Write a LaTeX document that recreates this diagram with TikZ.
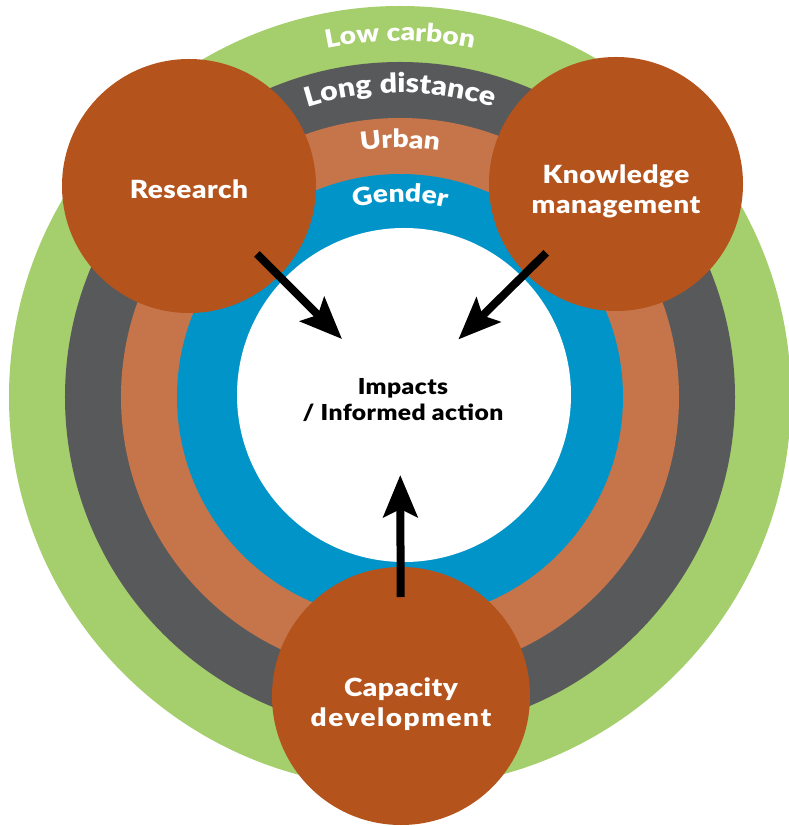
\documentclass[tikz,border=0pt]{standalone}
\usepackage{fontspec}
\IfFontExistsTF{Lato Black}
  {\setmainfont{Lato}[BoldFont={Lato Black}, FakeStretch=1.12, LetterSpace=2]}
  {\setmainfont{Lato}[FakeStretch=1.15, LetterSpace=2]}
\usetikzlibrary{arrows.meta,calc,decorations.text}

\definecolor{ringgreen}{HTML}{A5CE6C}
\definecolor{ringgray}{HTML}{58595B}
\definecolor{ringorange}{HTML}{C6754A}
\definecolor{ringblue}{HTML}{0094C9}
\definecolor{hubbrown}{HTML}{B4531C}

\begin{document}
\begin{tikzpicture}[x=1pt,y=1pt,
  ring/.style={circle, minimum size=#1, inner sep=0pt, draw=none},
  hub/.style={circle, minimum size=254pt, inner sep=0pt, fill=hubbrown},
  hubtext/.style={text=white, align=center, font=\bfseries\fontsize{25}{30}\selectfont},
  flow/.style={line width=8pt, -{Stealth[length=42pt,width=34pt,inset=8pt]}},
  ringlabel/.style 2 args={decorate, decoration={text along path, text align=center,
      text={|\bfseries\fontsize{#1}{30}\selectfont\color{white}|#2}}}
]
\useasboundingbox (-400,-429) rectangle (388,397);
\coordinate (O) at (0,0);

% concentric rings, outermost first
\node[ring=782pt, fill=ringgreen]  (lowcarbon) at (O) {};
\node[ring=670pt, fill=ringgray]   (longdist)  at (O) {};
\node[ring=558pt, fill=ringorange] (urban)     at (O) {};
\node[ring=446pt, fill=ringblue]   (gender)    at (O) {};
\node[ring=334pt, fill=white]      (impact)    at (4,2) {};

% ring labels along their arcs
\path[ringlabel={25}{Low carbon}]    (180:356) arc[start angle=180, end angle=0, radius=356];
\path[ringlabel={27}{Long distance}] (180:304) arc[start angle=180, end angle=0, radius=304];
\path[ringlabel={25}{Urban}]         (180:249) arc[start angle=180, end angle=0, radius=249];
\path[ringlabel={25}{Gender}]        (180:195) arc[start angle=180, end angle=0, radius=195];

% the three activity hubs
\node[hub] (research)  at (-211,211) {};
\node[hub] (knowledge) at (216,213) {};
\node[hub, minimum size=258pt] (capacity) at (1,-299) {};

\node[hubtext] (researchtext)  at ([yshift=-3pt]research.center)  {Research};
\node[hubtext] (knowledgetext) at ([yshift=-7pt]knowledge.center) {Knowledge\\management};
\node[hubtext] (capacitytext)  at ([yshift=-8pt]capacity.center)  {Capacity\\{\addfontfeature{LetterSpace=6}development}};

\node[font=\bfseries\fontsize{22}{26}\selectfont, align=center] (impacttext) at (3,-3)
  {Impacts\\/ Informed action};

% flows into the centre
\draw[flow] ($(research.center)!96pt!(O)$)  -- ($(O)!82pt!(research.center)$);
\draw[flow] ($(knowledge.center)!98pt!(O)$) -- ($(O)!82pt!(knowledge.center)$);
\draw[flow] ($(capacity.center)!99pt!(O)$)  -- ($(O)!78pt!(capacity.center)$);
\end{tikzpicture}
\end{document}
